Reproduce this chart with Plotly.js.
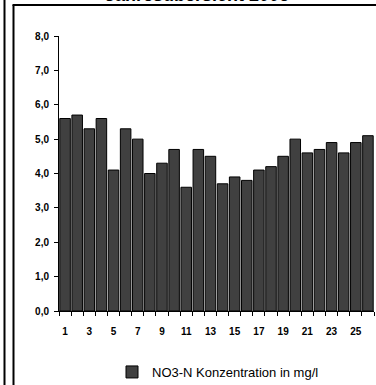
<!DOCTYPE html>
<html><head><meta charset="utf-8">
<script src="https://cdn.plot.ly/plotly-3.0.1.min.js"></script>
<style>html,body{margin:0;padding:0;background:#fff;overflow:hidden}#chart{width:376px;height:385px}</style>
</head><body><div id="chart"></div>
<script>
const categories = ['1','2','3','4','5','6','7','8','9','10','11','12','13','14','15','16','17','18','19','20','21','22','23','24','25','26'];
const values = [5.6,5.7,5.3,5.6,4.1,5.3,5.0,4.0,4.3,4.7,3.6,4.7,4.5,3.7,3.9,3.8,4.1,4.2,4.5,5.0,4.6,4.7,4.9,4.6,4.9,5.1];
const xTickLabels = ['1','','3','','5','','7','','9','','11','','13','','15','','17','','19','','21','','23','','25',''];
const yTickValues = [0,1,2,3,4,5,6,7,8];
const yTickLabels = ['0,0','1,0','2,0','3,0','4,0','5,0','6,0','7,0','8,0'];
const seriesName = 'NO3-N Konzentration in mg/l';
const chartTitle = 'Jahresübersicht 2006';

const L = 59, R = 374, T = 36, B = 311;
const W = R - L, H = B - T;
const px = x => (x - L) / W;
const py = y => (B - y) / H;
const font = 'Liberation Sans, Arial, sans-serif';

const trace = {
  type: 'bar', x: categories, y: values, name: seriesName,
  marker: {color: '#404040', line: {color: '#000', width: 1}},
  showlegend: true, hoverinfo: 'skip'
};

const layout = {
  width: 376, height: 385,
  margin: {l: L, r: 376 - R, t: T, b: 385 - B, pad: 0, autoexpand: false},
  paper_bgcolor: '#fff', plot_bgcolor: '#fff',
  bargap: 0.13,
  showlegend: true,
  xaxis: {
    type: 'category', range: [-0.5, 25.5],
    tickmode: 'array', tickvals: categories, ticktext: xTickLabels, tickangle: 0,
    tickson: 'boundaries', ticks: 'outside', ticklen: 4, tickcolor: '#000', tickwidth: 1,
    ticklabelstandoff: 11, automargin: false,
    showline: true, linecolor: '#000', linewidth: 1, showgrid: false, zeroline: false,
    tickfont: {family: font, size: 10, color: '#000', weight: 'bold'}, fixedrange: true
  },
  yaxis: {
    range: [0, 8], tickmode: 'array', tickvals: yTickValues, ticktext: yTickLabels,
    ticks: 'outside', ticklen: 4, tickcolor: '#000', tickwidth: 1,
    ticklabelstandoff: 3, automargin: false,
    showline: true, linecolor: '#000', linewidth: 1, showgrid: false, zeroline: false,
    tickfont: {family: font, size: 10, color: '#000', weight: 'bold'}, fixedrange: true
  },
  legend: {
    orientation: 'h', x: px(112), xanchor: 'left', y: py(372), yanchor: 'middle',
    itemwidth: 30,
    font: {family: font, size: 13, color: '#000'}, bgcolor: 'rgba(0,0,0,0)'
  },
  annotations: [{
    text: '<b>' + chartTitle + '</b>', xref: 'paper', yref: 'paper',
    x: px(197), y: py(7), xanchor: 'center', yanchor: 'bottom', showarrow: false,
    font: {family: font, size: 18, color: '#000'}
  }],
  shapes: [
    {type: 'line', xref: 'paper', yref: 'paper', x0: px(4.5), x1: px(4.5), y0: py(-5), y1: py(400), line: {color: '#000', width: 2}},
    {type: 'line', xref: 'paper', yref: 'paper', x0: px(13.5), x1: px(13.5), y0: py(5), y1: py(400), line: {color: '#000', width: 2}},
    {type: 'line', xref: 'paper', yref: 'paper', x0: px(12.5), x1: px(400), y0: py(5), y1: py(5), line: {color: '#000', width: 2}}
  ]
};

Plotly.newPlot('chart', [trace], layout, {staticPlot: true, displayModeBar: false});
</script>
</body></html>
